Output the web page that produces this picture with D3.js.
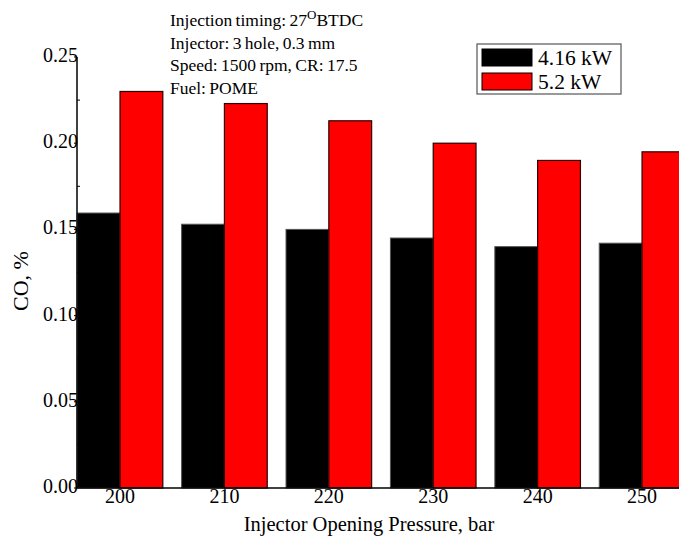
<!DOCTYPE html>
<html>
<head>
<meta charset="utf-8">
<script src="https://cdn.jsdelivr.net/npm/d3@7"></script>
<style>
  body { margin: 0; background: #fff; }
  svg { display: block; font-family: "Liberation Serif", "Times New Roman", serif; }
</style>
</head>
<body>
<svg id="chart" width="679" height="537"></svg>
<script>
// data
const pressures = [200, 210, 220, 230, 240, 250];
const load416 = [0.1595, 0.153, 0.150, 0.145, 0.140, 0.142];
const load52 = [0.230, 0.223, 0.213, 0.200, 0.190, 0.195];
const seriesNames = ["4.16 kW", "5.2 kW"];
const yTicks = [0.00, 0.05, 0.10, 0.15, 0.20, 0.25];
const notes = ["Injection timing: 27", "Injector: 3 hole, 0.3 mm", "Speed: 1500 rpm, CR: 17.5", "Fuel: POME"];

const svg = d3.select("#chart");

const x = d3.scaleLinear().domain([195.88, 253.54]).range([77, 679]);
const y = d3.scaleLinear().domain([0, 0.25]).range([488, 57]);
const barW = 4.1; // in x units

const g = svg.append("g");

// black bars (left of tick) and red bars (right of tick)
g.selectAll("rect.b1")
  .data(pressures)
  .enter().append("rect")
  .attr("class", "b1")
  .attr("x", d => x(d - barW))
  .attr("width", d => x(d) - x(d - barW))
  .attr("y", (d, i) => y(load416[i]))
  .attr("height", (d, i) => y(0) - y(load416[i]))
  .attr("fill", "#000")
  .attr("stroke", "#555")
  .attr("stroke-width", 1);

g.selectAll("rect.b2")
  .data(pressures)
  .enter().append("rect")
  .attr("class", "b2")
  .attr("x", d => x(d))
  .attr("width", d => x(d + barW) - x(d))
  .attr("y", (d, i) => y(load52[i]))
  .attr("height", (d, i) => y(0) - y(load52[i]))
  .attr("fill", "#ff0000")
  .attr("stroke", "#2a0000")
  .attr("stroke-width", 1.2);

// y axis
const yAxis = g.append("g").attr("transform", "translate(77,0)");
yAxis.append("line")
  .attr("x1", 0).attr("x2", 0)
  .attr("y1", y(0.25)).attr("y2", y(0))
  .attr("stroke", "#000").attr("stroke-width", 1.5);
yAxis.selectAll("line.minor")
  .data(d3.range(0.025, 0.25, 0.05))
  .enter().append("line")
  .attr("class", "minor")
  .attr("x1", 0).attr("x2", 3)
  .attr("y1", d => y(d)).attr("y2", d => y(d))
  .attr("stroke", "#000");
yAxis.selectAll("line.major")
  .data(yTicks)
  .enter().append("line")
  .attr("class", "major")
  .attr("x1", -3).attr("x2", 0)
  .attr("y1", d => y(d)).attr("y2", d => y(d))
  .attr("stroke", "#000");
yAxis.selectAll("text")
  .data(yTicks)
  .enter().append("text")
  .attr("x", 1)
  .attr("y", d => y(d) - 2)
  .attr("dy", "0.35em")
  .attr("text-anchor", "end")
  .attr("font-size", 20)
  .text(d => d.toFixed(2));

// x axis
const xAxis = g.append("g");
xAxis.append("line")
  .attr("x1", 77).attr("x2", 679)
  .attr("y1", y(0)).attr("y2", y(0))
  .attr("stroke", "#000").attr("stroke-width", 1.5);
xAxis.selectAll("text")
  .data(pressures)
  .enter().append("text")
  .attr("x", d => x(d))
  .attr("y", 503)
  .attr("text-anchor", "middle")
  .attr("font-size", 20)
  .text(d => d);

svg.append("text")
  .attr("x", 369).attr("y", 531)
  .attr("text-anchor", "middle")
  .attr("font-size", 20.5)
  .text("Injector Opening Pressure, bar");

svg.append("text")
  .attr("transform", "translate(28,281) rotate(-90)")
  .attr("text-anchor", "middle")
  .attr("font-size", 22)
  .text("CO, %");

// annotation block
const note = svg.append("g").attr("font-size", 17.5).attr("word-spacing", -1);
notes.forEach((t, i) => {
  const tx = note.append("text")
    .attr("x", 170)
    .attr("y", 26 + i * 22.7)
    .text(t);
  if (i === 0) {
    tx.append("tspan").attr("dy", -7).attr("font-size", 13).text("O");
    tx.append("tspan").attr("dy", 7).text("BTDC");
  }
});

// legend
const leg = svg.append("g");
leg.append("rect")
  .attr("x", 477).attr("y", 44)
  .attr("width", 144).attr("height", 50)
  .attr("fill", "#fff").attr("stroke", "#555").attr("stroke-width", 1.2);
const legColors = ["#000", "#ff0000"];
seriesNames.forEach((s, i) => {
  leg.append("rect")
    .attr("x", 482).attr("y", 49 + i * 24)
    .attr("width", 50).attr("height", 17)
    .attr("fill", legColors[i])
    .attr("stroke", "#000");
  leg.append("text")
    .attr("x", 538).attr("y", 57 + i * 24)
    .attr("dy", "0.35em")
    .attr("font-size", 21.5)
    .text(s);
});
</script>
</body>
</html>
